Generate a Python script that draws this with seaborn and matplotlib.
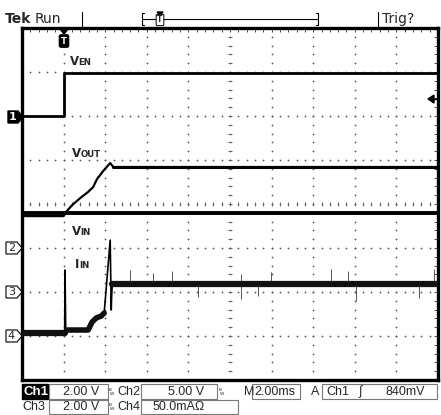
import numpy as np
import matplotlib
matplotlib.use('Agg')
import matplotlib.pyplot as plt
from matplotlib.lines import Line2D
from matplotlib.patches import Polygon, Rectangle
import seaborn as sns

sns.set_style('white')
plt.rcParams['font.family'] = ['DejaVu Sans']

# Ch1: VEN (2 V/div), Ch2: VIN (5 V/div), Ch3: VOUT (2 V/div), Ch4: IIN (50 mA/div)
t_ven = [-2.0, 0.0, 0.0, 18.0]
v_ven = [0.0, 0.0, 1.95, 1.95]

t_vin = [-2.0, 18.0]
v_vin = [4.0, 4.0]

t_vout = [-2.0, 0.0, 0.12, 0.41, 0.80, 1.18, 1.42, 1.61, 1.76, 1.90, 2.24, 2.39, 18.0]
v_vout = [3.45, 3.45, 3.64, 3.95, 4.27, 4.55, 4.77, 5.14, 5.32, 5.50, 5.86, 5.68, 5.68]

t_iin = [-2.0, 0.05, 0.07, 0.10, 0.17, 1.18, 1.37, 1.57, 1.81, 1.95, 2.24, 2.29, 2.31, 2.34, 18.0]
i_iin = [3.4, 3.4, 75.0, 9.1, 6.8, 6.8, 15.9, 20.5, 22.7, 26.1, 109.0, 29.5, 45.0, 59.1, 59.1]

# picos de ruido en la corriente
t_pico_arriba = [3.20, 4.31, 5.23, 8.51, 9.95, 12.84, 13.66, 17.81]
i_pico_arriba = [75, 72, 74, 70, 73, 76, 74, 76]
t_pico_abajo = [6.48, 8.51, 9.37, 14.05, 17.08]
i_pico_abajo = [44, 42, 45, 40, 43]

# escala (unidades/div) y posicion de tierra (div desde abajo)
canales = {
    'ch1': (2.0, 6),
    'ch2': (5.0, 3),
    'ch3': (2.0, 2),
    'ch4': (50.0, 1),
}

W, H = 441, 415


def fx(x):
    return x / W


def fy(y):
    return 1 - y / H


fig = plt.figure(figsize=(W / 100, H / 100), dpi=100)
fig.patch.set_facecolor('white')
pos = [fx(22), fy(380), fx(438) - fx(22), fy(28) - fy(380)]

# --- reticula ---
ax = fig.add_axes(pos)
ax.set_xlim(0, 10)
ax.set_ylim(0, 8)
finos = np.arange(0, 10.001, 0.2)
finos_y = np.arange(0, 8.001, 0.2)
for gx in range(1, 10):
    ax.scatter(np.full(len(finos_y), gx), finos_y, s=1.6, color='#555555', lw=0, zorder=1)
for gy in range(1, 8):
    ax.scatter(finos, np.full(len(finos), gy), s=1.6, color='#555555', lw=0, zorder=1)
ax.vlines(finos, 4 - 0.05, 4 + 0.05, color='#666666', lw=0.7)
ax.hlines(finos_y, 5 - 0.05, 5 + 0.05, color='#666666', lw=0.7)
ax.set_xticks(finos)
ax.set_yticks(finos_y)
ax.tick_params(direction='in', length=3, width=0.7, color='#444444',
               top=True, right=True, labelbottom=False, labelleft=False)
for s in ax.spines.values():
    s.set_linewidth(2.4)
    s.set_color('black')

# --- trazas ---
ejes = {}
for nombre, (esc, tierra) in canales.items():
    a = fig.add_axes(pos, facecolor='none')
    a.set_xlim(-2, 18)
    a.set_ylim(-tierra * esc, (8 - tierra) * esc)
    a.axis('off')
    ejes[nombre] = a

kw = dict(estimator=None, sort=False, legend=False)
sns.lineplot(x=t_ven, y=v_ven, ax=ejes['ch1'], color='black', lw=2.0, **kw)
sns.lineplot(x=t_vin, y=v_vin, ax=ejes['ch2'], color='black', lw=2.8, **kw)
sns.lineplot(x=t_vout, y=v_vout, ax=ejes['ch3'], color='black', lw=1.6, **kw)
sns.lineplot(x=t_vout[-2:], y=v_vout[-2:], ax=ejes['ch3'], color='black', lw=2.2, **kw)

a4 = ejes['ch4']
a4.vlines(t_pico_arriba, 59, i_pico_arriba, color='#555555', lw=0.7)
a4.vlines(t_pico_abajo, i_pico_abajo, 59, color='#555555', lw=0.7)
sns.lineplot(x=t_iin, y=i_iin, ax=a4, color='black', lw=1.2, **kw)
sns.lineplot(x=t_iin[:2], y=i_iin[:2], ax=a4, color='#111111', lw=4.5, **kw)
sns.lineplot(x=t_iin[4:10], y=i_iin[4:10], ax=a4, color='#111111', lw=4.0, **kw)
sns.lineplot(x=t_iin[-2:], y=i_iin[-2:], ax=a4, color='#111111', lw=4.5, **kw)


# --- etiquetas de las trazas ---
def etiqueta(x, y, grande, chica):
    fig.text(fx(x), fy(y), grande, fontsize=8.5, fontweight='bold', va='baseline', ha='left')
    fig.text(fx(x + 8.5 if grande == 'V' else x + 4.5), fy(y), chica, fontsize=6.2,
             fontweight='bold', va='baseline', ha='left')


etiqueta(70, 65, 'V', 'EN')
etiqueta(72, 157, 'V', 'OUT')
etiqueta(72, 235, 'V', 'IN')
etiqueta(75, 268, 'I', 'IN')


def linea(x0, y0, x1, y1, **k):
    fig.add_artist(Line2D([fx(x0), fx(x1)], [fy(y0), fy(y1)], transform=fig.transFigure, **k))


def poligono(pts, **k):
    fig.add_artist(Polygon([(fx(a), fy(b)) for a, b in pts], closed=True,
                           transform=fig.transFigure, **k))


# marcadores de tierra de canal
poligono([(8, 111), (18, 111), (23, 117), (18, 123), (8, 123)], fc='black', ec='black')
fig.text(fx(13), fy(117), '1', color='white', fontsize=8, fontweight='bold', ha='center', va='center')
for n, yy in (('2', 248), ('3', 292), ('4', 336)):
    poligono([(6, yy - 6), (17, yy - 6), (22, yy), (17, yy + 6), (6, yy + 6)], fc='white', ec='black', lw=0.8)
    fig.text(fx(11.5), fy(yy), n, fontsize=8, ha='center', va='center')

# marcador de disparo arriba
poligono([(60, 29), (68, 29), (64, 34)], fc='black', ec='black')
fig.text(fx(64), fy(41), 'T', color='white', fontsize=6, fontweight='bold', ha='center', va='center',
         bbox=dict(boxstyle='round,pad=0.2', fc='black', ec='black'))
# nivel de disparo a la derecha
poligono([(428, 99), (434, 95), (434, 103)], fc='black', ec='black')
linea(434, 99, 437, 99, color='black', lw=1)

# --- barra superior ---
fig.text(fx(5), fy(19), 'Tek', fontsize=10, fontweight='bold', va='center', ha='left')
fig.text(fx(35), fy(19), 'Run', fontsize=10, va='center', ha='left')
linea(82, 12, 82, 27, color='black', lw=0.8)
linea(142, 19, 318, 19, color='black', lw=0.8)
linea(142, 13, 142, 25, color='black', lw=0.8)
linea(142, 13, 144, 13, color='black', lw=0.8)
linea(142, 25, 144, 25, color='black', lw=0.8)
linea(318, 13, 318, 25, color='black', lw=0.8)
linea(316, 13, 318, 13, color='black', lw=0.8)
linea(316, 25, 318, 25, color='black', lw=0.8)
poligono([(157, 12), (163, 12), (160, 15)], fc='black', ec='black')
fig.text(fx(160), fy(20), 'T', fontsize=5.5, fontweight='bold', ha='center', va='center',
         bbox=dict(boxstyle='round,pad=0.15', fc='white', ec='black', lw=0.7))
linea(378, 12, 378, 27, color='black', lw=0.8)
fig.text(fx(382), fy(19), 'Trig?', fontsize=10, va='center', ha='left')

# --- barra inferior ---
fig.add_artist(Rectangle((fx(22), fy(399)), fx(26), fy(384) - fy(399), transform=fig.transFigure,
                         fc='black', ec='black'))
fig.text(fx(24), fy(392), 'Ch1', color='white', fontsize=9.5, fontweight='bold', va='center', ha='left',
         family='Liberation Sans')
cajas = [(49, 384, 108, 399), (141, 384, 217, 399), (252, 384, 300, 399), (322, 384, 437, 399),
         (49, 400, 108, 414), (141, 400, 238, 414)]
for x0, y0, x1, y1 in cajas:
    fig.add_artist(Rectangle((fx(x0), fy(y1)), fx(x1 - x0), fy(y0) - fy(y1), transform=fig.transFigure,
                             fc='none', ec='#777777', lw=0.8))
textos = [
    (63, 392, '2.00 V'), (117.5, 392, 'Ch2'), (168, 392, '5.00 V'), (244, 392, 'M'),
    (254, 392, '2.00ms'), (311, 392, 'A'), (326, 392, 'Ch1'), (359, 392, '\u222b'), (385, 392, '840mV'),
    (22, 407, 'Ch3'), (63, 407, '2.00 V'), (117.5, 407, 'Ch4'), (153, 407, '50.0mA\u03a9'),
]
for x, y, s in textos:
    fig.text(fx(x), fy(y), s, fontsize=9, va='center', ha='left', family='Liberation Sans')
for x, y in ((109, 392), (219, 392), (109, 407)):
    fig.text(fx(x), fy(y - 2), 'B', fontsize=3.2, va='center', ha='left')
    fig.text(fx(x + 1.3), fy(y + 1.5), 'W', fontsize=3.2, va='center', ha='left')

plt.savefig('out.png', dpi=100, facecolor='white')
